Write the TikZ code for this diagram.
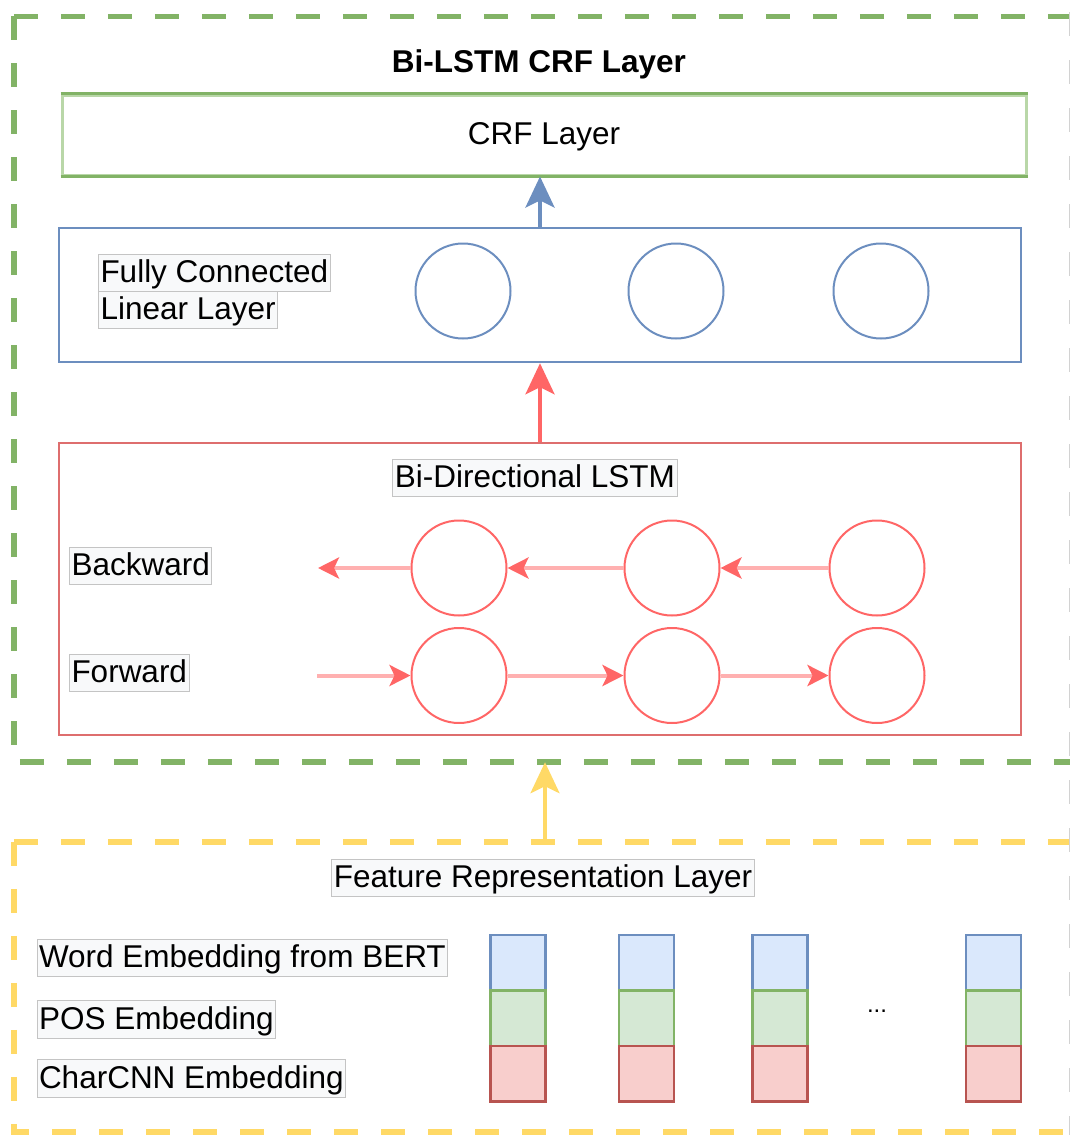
\documentclass[tikz,border=0pt]{standalone}
\usepackage{fontspec}
\setmainfont{Liberation Sans}
\usetikzlibrary{arrows.meta}
\definecolor{gruen}{HTML}{82B366}
\definecolor{gruenhell}{HTML}{B9D7A8}
\definecolor{gruenfill}{HTML}{D5E8D4}
\definecolor{blau}{HTML}{6C8EBF}
\definecolor{blaufill}{HTML}{DAE8FC}
\definecolor{rot}{HTML}{DE6E6E}
\definecolor{hellrot}{HTML}{FF6666}
\definecolor{pfeilrot}{HTML}{FFB0B0}
\definecolor{rotdunkel}{HTML}{B85450}
\definecolor{rotfill}{HTML}{F8CECC}
\definecolor{gelb}{HTML}{FFD966}
\definecolor{lblfill}{HTML}{F8F9FA}
\definecolor{lblrand}{HTML}{C4C4C4}
\tikzset{
  strich/.style={line width=5.5pt,dash pattern=on 24pt off 23pt},
  layerbox/.style={draw,line width=2.5pt,minimum width=962pt},
  zelle/.style={circle,minimum size=95pt,inner sep=0pt,line width=2pt},
  lbl/.style={fill=lblfill,draw=lblrand,line width=1pt,inner xsep=2pt,inner ysep=4pt,text height=24.5pt,text depth=5pt},
  emb/.style={minimum width=55pt,minimum height=55.5pt,inner sep=0pt,line width=2.5pt},
  lstmpfeil/.style={-{Stealth[length=21pt,width=21pt,inset=5pt,color=hellrot]},pfeilrot,line width=4pt},
  hochpfeil/.style={-{Stealth[length=31pt,width=29pt,inset=7pt]},line width=4pt},
}
\begin{document}
\begin{tikzpicture}[x=1pt,y=-1pt,font=\fontsize{31.5}{38}\selectfont]
  \useasboundingbox (0,0) rectangle (1070,1135);
  % outer frames
  \node[minimum width=1062pt,minimum height=745.5pt,inner sep=0pt] (bilstm) at (545,389.25) {};
  \draw[strich,gruen] (bilstm.north west) -- (bilstm.north east);
  \draw[strich,gruen] (bilstm.north west) -- (bilstm.south west) -- (bilstm.south east);
  \node[minimum width=1062pt,minimum height=290pt,inner sep=0pt] (feat) at (545,987) {};
  \draw[strich,gelb] (feat.north west) -- (feat.north east);
  \draw[strich,gelb] (feat.north west) -- (feat.south west) -- (feat.south east);
  \draw[gray!35,line width=1pt,dash pattern=on 24pt off 24pt] (1069,12) -- (1069,1135);
  \node[font=\fontsize{31.5}{38}\selectfont\bfseries,anchor=base] (titel) at (539,72) {Bi-LSTM CRF Layer};
  % crf
  \node[layerbox,draw=gruenhell,minimum width=964pt,minimum height=80pt,line width=3pt,text height=24.5pt,text depth=5pt] (crf) at (544,135) {CRF Layer};
  \draw[gruen,line width=3pt] (crf.north west) -- (crf.north east) (crf.south west) -- (crf.south east);
  % fully connected
  \node[layerbox,draw=blau,minimum height=134pt] (fc) at (540,295) {};
  \node[lbl,anchor=west] (fclbl1) at (98,273) {Fully Connected};
  \node[lbl,anchor=west] (fclbl2) at (98,310) {Linear Layer};
  \foreach \n/\x in {1/463,2/676,3/881}
    \node[zelle,draw=blau] (h\n) at (\x,291) {};
  % lstm
  \node[layerbox,draw=rot,minimum height=292pt] (lstm) at (540,589) {};
  \node[lbl] (lstmlbl) at (535,478) {Bi-Directional LSTM};
  \node[lbl,anchor=west] (bwlbl) at (69,566) {Backward};
  \node[lbl,anchor=west] (fwlbl) at (69,673) {Forward};
  \foreach \n/\x in {1/459,2/672,3/877}{
    \node[zelle,draw=hellrot] (b\n) at (\x,568) {};
    \node[zelle,draw=hellrot] (f\n) at (\x,675.5) {};
  }
  \coordinate (bende) at (318,568);
  \coordinate (fstart) at (317,675.5);
  \draw[lstmpfeil] (b3) -- (b2);
  \draw[lstmpfeil] (b2) -- (b1);
  \draw[lstmpfeil] (b1) -- (bende);
  \draw[lstmpfeil] (fstart) -- (f1);
  \draw[lstmpfeil] (f1) -- (f2);
  \draw[lstmpfeil] (f2) -- (f3);
  % layer arrows
  \draw[hochpfeil,blau] (fc.north) -- (fc.north |- crf.south);
  \draw[hochpfeil,hellrot,line width=3.5pt] (lstm.north) -- (fc.south);
  \draw[hochpfeil,gelb,line width=3.5pt] (feat.north) -- (bilstm.south);
  % features
  \node[lbl] (featlbl) at (543,878) {Feature Representation Layer};
  \node[lbl,anchor=west] (wlbl) at (36.5,958) {Word Embedding from BERT};
  \node[lbl,anchor=west] (plbl) at (36.5,1019.7) {POS Embedding};
  \node[lbl,anchor=west] (clbl) at (36.5,1078.5) {CharCNN Embedding};
  \foreach \n/\x in {1/518,2/646.7,3/780,4/993.7}{
    \node[emb,fill=blaufill,draw=blau] (w\n) at (\x,962.5) {};
    \node[emb,fill=gruenfill,draw=gruen] (p\n) at (\x,1018) {};
    \node[emb,fill=rotfill,draw=rotdunkel] (c\n) at (\x,1073.5) {};
  }
  \node[font=\fontsize{24}{28}\selectfont] (dots) at (877,1011) {...};
\end{tikzpicture}
\end{document}
